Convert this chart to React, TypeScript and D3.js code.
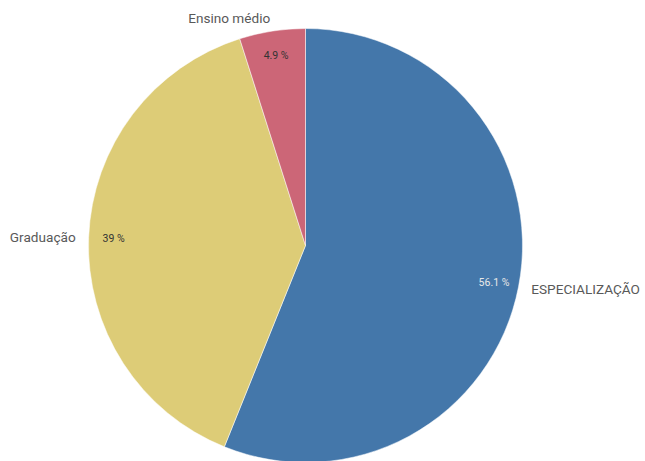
import React from "react";
import * as d3 from "d3";

const categories = ["ESPECIALIZAÇÃO", "Graduação", "Ensino médio"];
const values = [56.1, 39, 4.9];
const valueLabels = ["56.1 %", "39 %", "4.9 %"];
const colors = ["#4477aa", "#ddcc77", "#cc6677"];
const insideTextColors = ["#e8e8e8", "#333333", "#333333"];

const W = 645;
const H = 461;
const cx = 305.5;
const cy = 245.5;
const R = 217;

export default function App() {
  const data = categories.map((c, i) => ({ name: c, value: values[i], label: valueLabels[i], i }));
  const pie = d3.pie<any>().value((d) => d.value).sort(null).startAngle(0).endAngle(2 * Math.PI);
  const arcs = pie(data);
  const arcGen = d3.arc<any>().innerRadius(0).outerRadius(R);
  const font = "Roboto, 'Open Sans', sans-serif";

  return (
    <svg width={W} height={H} style={{ position: "absolute", left: 0, top: 0 }}>
      <g transform={`translate(${cx},${cy})`}>
        {arcs.map((a, k) => (
          <path key={k} d={arcGen(a) as string} fill={colors[k]} stroke="#ffffff" strokeWidth={0.5} />
        ))}
        {arcs.map((a, k) => {
          const mid = (a.startAngle + a.endAngle) / 2;
          const ri = 192;
          const xi = Math.sin(mid) * ri;
          const yi = -Math.cos(mid) * ri;
          const ro = R + 13;
          const xo = Math.sin(mid) * ro;
          const yo = -Math.cos(mid) * ro;
          const anchor = Math.sin(mid) >= 0 ? "start" : "end";
          return (
            <g key={"l" + k}>
              <text
                x={xi}
                y={yi}
                textAnchor="middle"
                dominantBaseline="central"
                fontFamily={font}
                fontSize={10.5}
                fill={insideTextColors[k]}
              >
                {a.data.label}
              </text>
              <text
                x={xo}
                y={yo}
                textAnchor={anchor}
                dominantBaseline="central"
                fontFamily={font}
                fontSize={13.6}
                fill="#595959"
              >
                {a.data.name}
              </text>
            </g>
          );
        })}
      </g>
    </svg>
  );
}
